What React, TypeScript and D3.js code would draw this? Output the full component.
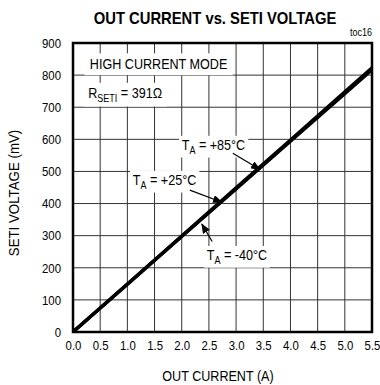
import React, { useEffect, useRef } from 'react';
import * as d3 from 'd3';

// out current (A) vs SETI voltage (mV), three temperatures nearly on top of each other
const currents = [0, 1, 2, 3, 4, 5, 5.5];
const voltM40 = [0, 148, 297, 445, 594, 742, 816];
const volt25 = [0, 149, 298, 447, 596, 745, 820];
const volt85 = [0, 150, 299, 449, 598, 748, 823];
const seriesTemps = ['-40', '+25', '+85'];

const xTicks = [0, 0.5, 1, 1.5, 2, 2.5, 3, 3.5, 4, 4.5, 5, 5.5];
const yTicks = [0, 100, 200, 300, 400, 500, 600, 700, 800, 900];

const W = 380;
const H = 385;
const margin = { top: 43, right: 8, bottom: 53, left: 73 };
const FONT = "'Liberation Sans', Arial, Helvetica, sans-serif";
const SQ = 0.9; // the original type is a narrow sans

// where each temperature label sits and where its arrow points (data units)
const annotations = [
  { temp: '+85', tx: 2.0, ty: 567, from: [2.94, 557], to: [3.44, 506] },
  { temp: '+25', tx: 1.1, ty: 458, from: [2.15, 442], to: [2.74, 404] },
  { temp: '-40', tx: 2.46, ty: 224, from: [2.56, 282], to: [2.37, 336] },
];

export default function App() {
  const svgRef = useRef<SVGSVGElement>(null);

  useEffect(() => {
    if (!svgRef.current) return;
    const svg = d3.select(svgRef.current);
    svg.selectAll('*').remove();

    const x = d3.scaleLinear().domain([0, 5.5]).range([margin.left, W - margin.right]);
    const y = d3.scaleLinear().domain([0, 900]).range([H - margin.bottom, margin.top]);

    const label = (parent: any, px: number, py: number, size: number, anchor = 'start', weight = 'normal', sq = SQ) => {
      const g = parent.append('g').attr('transform', `translate(${px},${py}) scale(${sq},1)`);
      const t = g.append('text')
        .attr('font-family', FONT)
        .attr('font-size', size)
        .attr('font-weight', weight)
        .attr('text-anchor', anchor)
        .attr('fill', '#000');
      return t;
    };

    // white box behind a label so grid lines stop at it
    const backing = (t: any, pad: number) => {
      const node = t.node() as SVGTextElement;
      const b = node.getBBox();
      d3.select(node.parentNode as SVGGElement).insert('rect', 'text')
        .attr('x', b.x - pad).attr('y', b.y - pad / 2)
        .attr('width', b.width + pad * 2).attr('height', b.height + pad)
        .attr('fill', '#fff');
    };

    // grid
    const grid = svg.append('g').attr('stroke', '#333').attr('stroke-width', 1);
    grid.selectAll('.gx').data(xTicks.slice(1, -1)).enter().append('line')
      .attr('x1', d => x(d)).attr('x2', d => x(d))
      .attr('y1', y(0)).attr('y2', y(900));
    grid.selectAll('.gy').data(yTicks.slice(1, -1)).enter().append('line')
      .attr('x1', x(0)).attr('x2', x(5.5))
      .attr('y1', d => y(d)).attr('y2', d => y(d));

    // text blocks in the plot
    const notes = svg.append('g');
    const mode = label(notes, x(0.31), y(819), 14);
    mode.text('HIGH CURRENT MODE');
    backing(mode, 6);

    const rs = label(notes, x(0.28), y(729), 14);
    rs.append('tspan').text('R');
    rs.append('tspan').attr('font-size', 10).attr('dy', 4).text('SETI');
    rs.append('tspan').attr('dy', -4).text(' = 391');
    rs.append('tspan').text('\u03A9');
    backing(rs, 5);

    annotations.forEach(a => {
      const t = label(notes, x(a.tx), y(a.ty), 14);
      t.append('tspan').text('T');
      t.append('tspan').attr('font-size', 10).attr('dy', 4).text('A');
      t.append('tspan').attr('dy', -4).text(` = ${a.temp}\u00B0C`);
      backing(t, 3);
    });

    // data lines
    const line = d3.line<number>()
      .x((_, i) => x(currents[i]))
      .y(d => y(d));
    svg.append('clipPath').attr('id', 'plotclip').append('rect')
      .attr('x', x(0)).attr('y', y(900)).attr('width', x(5.5) - x(0)).attr('height', y(0) - y(900));
    svg.append('g').attr('clip-path', 'url(#plotclip)')
      .selectAll('path').data([voltM40, volt25, volt85]).enter().append('path')
      .attr('d', d => line(d))
      .attr('fill', 'none')
      .attr('stroke', '#000')
      .attr('stroke-width', 3.2)
      .attr('data-temp', (_, i) => seriesTemps[i]);

    // arrows
    svg.append('defs').append('marker')
      .attr('id', 'head').attr('markerUnits', 'userSpaceOnUse')
      .attr('markerWidth', 10).attr('markerHeight', 8)
      .attr('refX', 9).attr('refY', 4).attr('orient', 'auto')
      .append('path').attr('d', 'M0,0 L10,4 L0,8 Z').attr('fill', '#000');
    svg.append('g').selectAll('line').data(annotations).enter().append('line')
      .attr('x1', d => x(d.from[0])).attr('y1', d => y(d.from[1]))
      .attr('x2', d => x(d.to[0])).attr('y2', d => y(d.to[1]))
      .attr('stroke', '#000').attr('stroke-width', 1.2)
      .attr('marker-end', 'url(#head)');

    // frame
    svg.append('rect')
      .attr('x', x(0)).attr('y', y(900))
      .attr('width', x(5.5) - x(0)).attr('height', y(0) - y(900))
      .attr('fill', 'none').attr('stroke', '#000').attr('stroke-width', 2.5);

    // axes (labels only, grid does the ticks)
    const xAxis = svg.append('g').attr('transform', `translate(0,${H - margin.bottom})`)
      .call(d3.axisBottom(x).tickValues(xTicks).tickSize(0).tickFormat(d3.format('.1f')));
    xAxis.select('.domain').remove();
    xAxis.selectAll('text')
      .attr('y', 0).attr('dy', 0)
      .attr('transform', 'translate(0,18) scale(0.95,1)')
      .attr('font-family', FONT).attr('font-size', 12).attr('fill', '#000');

    const yAxis = svg.append('g').attr('transform', `translate(${margin.left},0)`)
      .call(d3.axisLeft(y).tickValues(yTicks).tickSize(0));
    yAxis.select('.domain').remove();
    yAxis.selectAll('text')
      .attr('x', 0).attr('dy', '0.36em')
      .attr('transform', 'translate(-12,0) scale(0.95,1)')
      .attr('font-family', FONT).attr('font-size', 12).attr('fill', '#000');

    // titles
    label(svg, 215, 24, 17, 'middle', 'bold', 0.87).text('OUT CURRENT vs. SETI VOLTAGE');
    label(svg, 372, 36, 10, 'end').text('toc16');
    label(svg, 218, 381, 14, 'middle').text('OUT CURRENT (A)');
    svg.append('g').attr('transform', 'translate(19,193) rotate(-90) scale(0.95,1)')
      .append('text')
      .attr('font-family', FONT).attr('font-size', 14).attr('text-anchor', 'middle').attr('fill', '#000')
      .text('SETI VOLTAGE (mV)');
  }, []);

  return (
    <div style={{ position: 'absolute', left: 0, top: 0, background: '#fff' }}>
      <svg ref={svgRef} width={W} height={H} style={{ display: 'block' }} />
    </div>
  );
}
